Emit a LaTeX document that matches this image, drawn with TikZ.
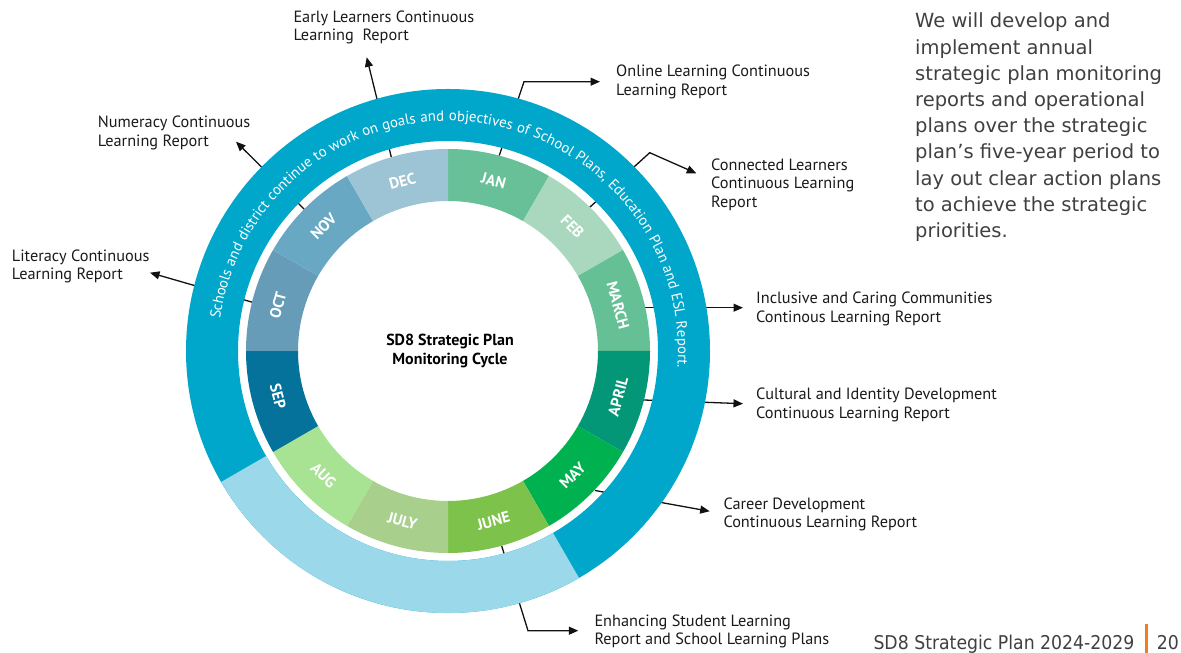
\documentclass[tikz,border=0pt]{standalone}
\usepackage{fontspec}
\setmainfont{PT Sans}
\newfontfamily\parafont{DejaVu Sans}
\newfontfamily\footfont[FakeStretch=0.91]{DejaVu Sans}
\usetikzlibrary{arrows.meta,decorations.text,calc}
\definecolor{outerblue}{HTML}{00A7CB}
\definecolor{lightblue}{HTML}{9BD8E9}
\definecolor{cjan}{HTML}{67C097}
\definecolor{cfeb}{HTML}{A9D8BF}
\definecolor{cmar}{HTML}{66C096}
\definecolor{capr}{HTML}{039778}
\definecolor{cmay}{HTML}{00B14F}
\definecolor{cjun}{HTML}{7DC24A}
\definecolor{cjul}{HTML}{A8CF8C}
\definecolor{caug}{HTML}{A8E293}
\definecolor{csep}{HTML}{04729A}
\definecolor{coct}{HTML}{669CB8}
\definecolor{cnov}{HTML}{68A8C3}
\definecolor{cdec}{HTML}{9CC4D4}
\definecolor{linecol}{HTML}{111111}
\definecolor{labelcol}{HTML}{1A1A1A}
\definecolor{paracol}{HTML}{404040}
\definecolor{footorange}{HTML}{F47B20}
\newcommand\curvefont{\fontsize{14.8}{17}\selectfont}
\begin{document}
\begin{tikzpicture}[x=1pt,y=1pt,
  conn/.style={draw=linecol, line width=1.3pt, -{Triangle[length=9.5pt,width=8pt]}},
  lbl/.style={anchor=north west, inner sep=0pt, align=left, text=labelcol, font=\fontsize{16.3}{18.6}\selectfont},
  monthlbl/.style={text=white, font=\bfseries\fontsize{15.5}{17}\selectfont, inner sep=0pt},
  centertitle/.style={align=center, inner sep=0pt, text=black, font=\bfseries\fontsize{16}{19}\selectfont},
]
\useasboundingbox (0,0) rectangle (1181,653);
\coordinate (C) at (448,302);

% connector coordinates
\coordinate (s-early) at ([shift={(106.3:202)}]C);
\coordinate (t-early) at (366.7,595.7);
\coordinate (s-num) at ([shift={(135.4:202)}]C);
\coordinate (t-num) at (236,511.3);
\coordinate (s-lit) at ([shift={(166:202)}]C);
\coordinate (t-lit) at (150,380.3);
\coordinate (s-online) at ([shift={(75.3:202)}]C);
\coordinate (k-online) at (524,571.3);
\coordinate (t-online) at (600,571.3);
\coordinate (s-conn) at ([shift={(45.4:202)}]C);
\coordinate (k-conn) at (649.7,500.3);
\coordinate (t-conn) at (696.3,479.7);
\coordinate (s-incl) at (645.3,345.3);
\coordinate (t-incl) at (743,345.3);
\coordinate (s-cult) at (644,253);
\coordinate (t-cult) at (743,249.3);
\coordinate (s-career) at (595,162.5);
\coordinate (t-career) at (709.7,141.7);
\coordinate (s-enh) at ([shift={(-74.6:202)}]C);
\coordinate (k-enh) at (528,22.3);
\coordinate (t-enh) at (578.3,22.3);

\draw[conn] (s-early) -- (t-early);
\draw[conn] (s-num) -- (t-num);
\draw[conn] (s-lit) -- (t-lit);
\draw[conn] (s-online) -- (k-online) -- (t-online);
\draw[conn] (s-conn) -- (k-conn) -- (t-conn);
\draw[conn] (s-incl) -- (t-incl);
\draw[conn] (s-cult) -- (t-cult);
\draw[conn] (s-career) -- (t-career);
\draw[conn] (s-enh) -- (k-enh) -- (t-enh);

% outer ring
\fill[outerblue, even odd rule] (C) circle[radius=262] (C) circle[radius=210];
\fill[lightblue] ([shift={(210:210)}]C) -- ([shift={(210:262)}]C) arc[start angle=210, end angle=300, radius=262] -- ([shift={(300:210)}]C) arc[start angle=300, end angle=210, radius=210] -- cycle;

\path[decorate, decoration={text along path, text color=white,
  text={|\curvefont|Schools and district continue to work on goals and objectives of School Plans, Education Plan and ESL Report.},
  text align=fit to path stretching spaces}]
  ([shift={(172:230)}]C) arc[start angle=172, end angle=-4, radius=230];

% month ring
\foreach \s/\col/\lab/\rot in {60/cjan/JAN/-15, 30/cfeb/FEB/-45, 0/cmar/MARCH/-75, -30/capr/APRIL/75, -60/cmay/MAY/45, -90/cjun/JUNE/15, -120/cjul/JULY/-15, -150/caug/AUG/-45, 180/csep/SEP/-75, 150/coct/OCT/75, 120/cnov/NOV/45, 90/cdec/DEC/15}{
  \pgfmathsetmacro\e{\s+30}
  \pgfmathsetmacro\m{\s+15}
  \fill[\col] ([shift={(\s:150)}]C) -- ([shift={(\s:202)}]C) arc[start angle=\s, end angle=\e, radius=202] -- ([shift={(\e:150)}]C) arc[start angle=\e, end angle=\s, radius=150] -- cycle;
  \node[monthlbl, rotate=\rot] (m-\lab) at ([shift={(\m:176)}]C) {\lab};
}

\node[centertitle] (title) at (450,302) {SD8 Strategic Plan\\Monitoring Cycle};

% labels
\node[lbl] (l-early) at (293.3,642.5) {Early Learners Continuous\\Learning\ \ Report};
\node[lbl] (l-num) at (97.7,536.8) {Numeracy Continuous\\Learning Report};
\node[lbl] (l-lit) at (11.7,403.8) {Literacy Continuous\\Learning Report};
\node[lbl] (l-online) at (616,587.8) {Online Learning Continuous\\Learning Report};
\node[lbl] (l-conn) at (711,494.5) {Connected Learners\\Continuous Learning\\Report};
\node[lbl] (l-incl) at (756,361.2) {Inclusive and Caring Communities\\Continous Learning Report};
\node[lbl] (l-cult) at (756,265.2) {Cultural and Identity Development\\Continuous Learning Report};
\node[lbl] (l-career) at (723.3,155.5) {Career Development\\Continuous Learning Report};
\node[lbl] (l-enh) at (594.3,38.8) {Enhancing Student Learning\\Report and School Learning Plans};

% paragraph
\node[anchor=north west, inner sep=0pt, align=left, text=paracol, font=\parafont\fontsize{19.5}{26.2}\selectfont] (para) at (915,640.1)
 {We will develop and\\implement annual\\strategic plan monitoring\\reports and operational\\plans over the strategic\\plan’s five-year period to\\lay out clear action plans\\to achieve the strategic\\priorities.};

% footer
\node[anchor=base west, inner sep=0pt, text=paracol, font=\footfont\fontsize{19}{22}\selectfont] (foot) at (873.3,3.7) {SD8 Strategic Plan 2024-2029};
\fill[footorange] (1144.5,0) rectangle (1147.5,29);
\node[anchor=base west, inner sep=0pt, text=paracol, font=\footfont\fontsize{19}{22}\selectfont] (page) at (1156.7,3.7) {20};
\end{tikzpicture}
\end{document}
